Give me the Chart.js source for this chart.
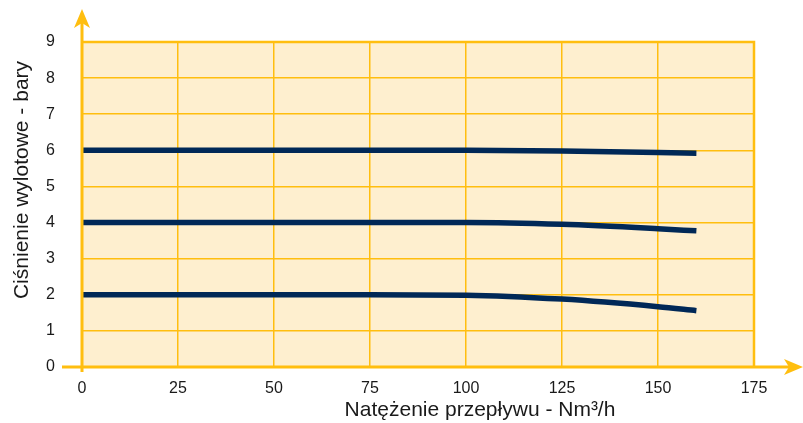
<!DOCTYPE html>
<html><head><meta charset="utf-8">
<script src="https://cdn.jsdelivr.net/npm/chart.js@4.4.1/dist/chart.umd.min.js"></script>
<style>html,body{margin:0;padding:0;background:#fff}#wrap{width:803px;height:423px}</style>
</head><body><div id="wrap"><canvas id="c" width="803" height="423"></canvas></div>
<script>
const flow = [0, 25, 50, 75, 100, 125, 150, 160];
const p6 = [6, 6, 6, 6, 6, 5.98, 5.94, 5.92];
const p4 = [4, 4, 4, 4, 4, 3.95, 3.83, 3.77];
const p2 = [2, 2, 2, 2, 1.99, 1.88, 1.67, 1.56];
const xTicks = [0, 25, 50, 75, 100, 125, 150, 175];
const yTicks = [0, 1, 2, 3, 4, 5, 6, 7, 8, 9];
const xTitle = 'Natężenie przepływu - Nm³/h';
const yTitle = 'Ciśnienie wylotowe - bary';

const ORANGE = '#FFBE0F';
const LINE = '#002857';
const FONT = "'Liberation Sans', Arial, sans-serif";

function pts(arr){ return flow.map((x,i)=>({x:x,y:arr[i]})); }

const decor = {
  id:'decor',
  beforeDraw(chart){
    const {ctx, chartArea:a} = chart;
    ctx.save();
    ctx.fillStyle = '#FEEFCF';
    ctx.fillRect(a.left, a.top, a.right-a.left, a.bottom-a.top);
    ctx.restore();
  },
  afterDatasetsDraw(chart){
    const {ctx, chartArea:a} = chart;
    ctx.save();
    ctx.strokeStyle = ORANGE; ctx.fillStyle = ORANGE;
    ctx.lineWidth = 2.5;
    ctx.beginPath();
    ctx.moveTo(a.left, a.top); ctx.lineTo(a.right, a.top); ctx.lineTo(a.right, a.bottom);
    ctx.stroke();
    ctx.lineWidth = 3;
    ctx.beginPath();
    ctx.moveTo(a.left-20, a.bottom); ctx.lineTo(a.right+38, a.bottom);
    ctx.moveTo(a.left, a.bottom+5); ctx.lineTo(a.left, a.top-22);
    ctx.stroke();
    ctx.beginPath();
    ctx.moveTo(a.left, a.top-33); ctx.lineTo(a.left-8, a.top-14); ctx.lineTo(a.left, a.top-19); ctx.lineTo(a.left+8, a.top-14); ctx.closePath();
    ctx.fill();
    const ex = a.right+49;
    ctx.beginPath();
    ctx.moveTo(ex, a.bottom); ctx.lineTo(ex-19, a.bottom-8); ctx.lineTo(ex-14, a.bottom); ctx.lineTo(ex-19, a.bottom+8); ctx.closePath();
    ctx.fill();
    ctx.fillStyle = '#1a1a1a';
    ctx.font = '21px ' + FONT;
    ctx.textAlign = 'center'; ctx.textBaseline = 'middle';
    ctx.fillText(xTitle, 480, 410);
    ctx.translate(22, 180);
    ctx.rotate(-Math.PI/2);
    ctx.fillText(yTitle, 0, 0);
    ctx.restore();
  }
};

const ds = (arr)=>({data:pts(arr), borderColor:LINE, borderWidth:5.5, pointRadius:0, fill:false, cubicInterpolationMode:'monotone', borderCapStyle:'butt'});

new Chart(document.getElementById('c'), {
  type:'line',
  data:{datasets:[ds(p6), ds(p4), ds(p2)]},
  options:{
    responsive:false, animation:false, devicePixelRatio:1,
    layout:{padding:{top:42, right:49, left:0, bottom:0}},
    plugins:{legend:{display:false}, tooltip:{enabled:false}},
    scales:{
      x:{type:'linear', min:0, max:175,
        afterBuildTicks(s){ s.ticks = xTicks.map(v=>({value:v})); },
        afterFit(s){ s.height = 56; },
        grid:{color:ORANGE, lineWidth:1.5, drawTicks:false},
        border:{display:false},
        ticks:{padding:12, color:'#1a1a1a', font:{family:FONT, size:16}, maxRotation:0}
      },
      y:{type:'linear', min:0, max:9,
        afterBuildTicks(s){ s.ticks = yTicks.map(v=>({value:v})); },
        afterFit(s){ s.width = 82; },
        grid:{color:ORANGE, lineWidth:1.5, drawTicks:false},
        border:{display:false},
        ticks:{padding:27, color:'#1a1a1a', font:{family:FONT, size:16}}
      }
    }
  },
  plugins:[decor]
});
</script></body></html>
